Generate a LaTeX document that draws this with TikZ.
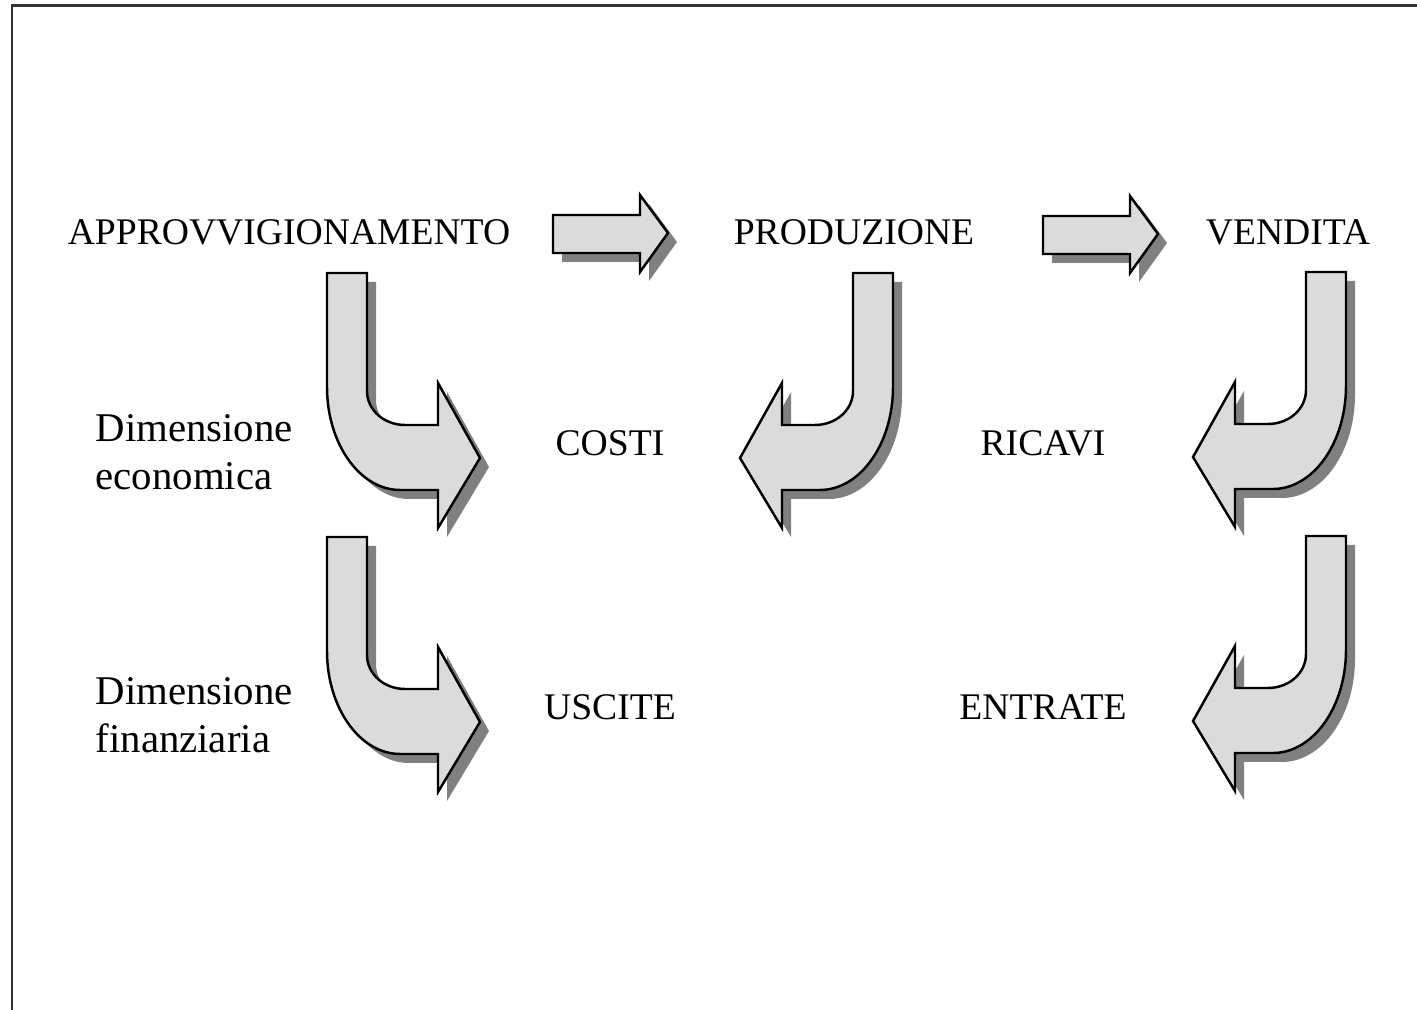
\documentclass[tikz,border=0pt]{standalone}
\usepackage{fontspec}
\setmainfont{Liberation Serif}
\begin{document}
\begin{tikzpicture}[x=0.01cm,y=-0.01cm,
  frameline/.style={line width=0.85pt,draw=black!80},
  arrowbody/.style={fill=black!14,draw=black,line width=0.7pt,line join=miter},
  arrowshade/.style={fill=black!50},
  caps/.style={inner sep=0pt,anchor=base,font=\fontsize{10.7}{13}\selectfont},
  side/.style={inner sep=0pt,anchor=base west,align=left,font=\fontsize{11.6}{13.9}\selectfont}]
\useasboundingbox (0,0) rectangle (1417,1010);

% open frame (left and top edges)
\draw[frameline] (12,1012) -- (12,6) -- (1419,6);

% outline of the bent block arrow, shaft on the left, head pointing right
\newcommand\bentpath{(0,0) -- (40,0) -- (40,118)
  .. controls (40,137) and (57,152) .. (78,152) -- (111,152) -- (111,110)
  -- (153,185) -- (111,255) -- (111,217) -- (73,217)
  .. controls (33,217) and (0,171) .. (0,114) -- cycle}
% outline of the straight block arrow
\newcommand\straightpath{(0,0) -- (87,0) -- (87,-20) -- (115,18) -- (87,57)
  -- (87,38) -- (0,38) -- cycle}

\newcommand\bentarrow[2]{%
  \fill[arrowshade,shift={#1},shift={(9,9)},xscale=#2] \bentpath;
  \filldraw[arrowbody,shift={#1},xscale=#2] \bentpath;}
\newcommand\flatarrow[1]{%
  \fill[arrowshade,shift={#1},shift={(9,9)}] \straightpath;
  \filldraw[arrowbody,shift={#1}] \straightpath;}

% top row: phases
\node[caps] (appr) at (289,245) {APPROVVIGIONAMENTO};
\node[caps] (prod) at (854,245) {PRODUZIONE};
\node[caps] (vend) at (1288,245) {VENDITA};
\flatarrow{(553,215)}
\flatarrow{(1043,216)}

% economic dimension (base anchor sits on the last line)
\node[side] (dimeco) at (95,490) {Dimensione\\economica};
\node[caps] (costi) at (610,456) {COSTI};
\node[caps] (ricavi) at (1043,456) {RICAVI};
\bentarrow{(327,273)}{1}
\bentarrow{(893,273)}{-1}
\bentarrow{(1346,272)}{-1}

% financial dimension
\node[side] (dimfin) at (95,753) {Dimensione\\finanziaria};
\node[caps] (uscite) at (610,720) {USCITE};
\node[caps] (entrate) at (1043,720) {ENTRATE};
\bentarrow{(327,537)}{1}
\bentarrow{(1346,536)}{-1}
\end{tikzpicture}
\end{document}
